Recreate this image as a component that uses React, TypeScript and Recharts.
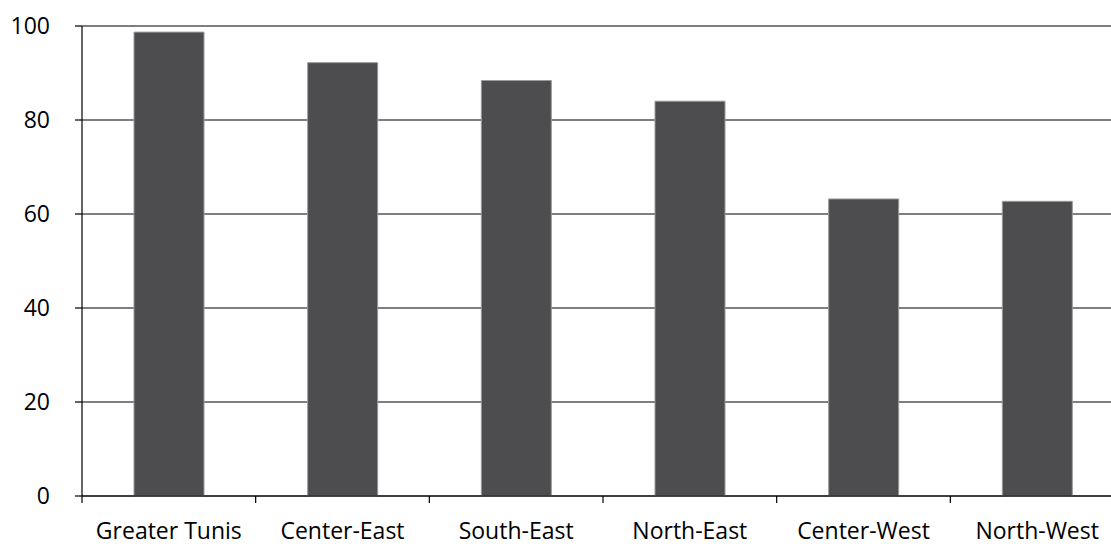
import React from 'react';
import { BarChart, Bar, XAxis, YAxis, CartesianGrid } from 'recharts';

const regions = ['Greater Tunis', 'Center-East', 'South-East', 'North-East', 'Center-West', 'North-West'];
const values = [98.7, 92.2, 88.4, 84.0, 63.2, 62.7];
const yTicks = [0, 20, 40, 60, 80, 100];

const data = regions.map((name, i) => ({ name, value: values[i] }));

const FONT = '"Open Sans", sans-serif';
const LINE = '#000';

// label in the middle of the band, tick mark on the band's left edge
const BoundaryTick = (props: any) => {
  const { x, y, payload } = props;
  const half = payload?.offset ?? 87;
  return (
    <g>
      <line x1={x - half} x2={x - half} y1={y} y2={y + 7} stroke={LINE} strokeWidth={1.2} />
      <text x={x} y={y + 27} dy="0.7em" textAnchor="middle" fontFamily={FONT} fontSize={23} fill="#000">
        {payload.value}
      </text>
    </g>
  );
};

export default function App() {
  return (
    <div style={{ position: 'absolute', left: 0, top: 0, width: 1111, height: 546, overflow: 'hidden', background: '#fff' }}>
      <BarChart width={1130} height={546} data={data} margin={{ top: 26, right: 6, bottom: 0, left: 0 }}>
        <CartesianGrid vertical={false} stroke={LINE} strokeWidth={1.2} />
        <XAxis
          dataKey="name"
          height={50}
          tickLine={false}
          tickSize={0}
          tickMargin={0}
          axisLine={{ stroke: LINE, strokeWidth: 1.2 }}
          tick={<BoundaryTick />}
          interval={0}
        />
        <YAxis
          width={82}
          domain={[0, 100]}
          ticks={yTicks}
          interval={0}
          tickSize={7}
          tickMargin={25}
          axisLine={{ stroke: LINE, strokeWidth: 1.2 }}
          tickLine={{ stroke: LINE, strokeWidth: 1.2 }}
          tick={{ fill: '#000', fontSize: 23, fontFamily: FONT }}
        />
        <Bar dataKey="value" fill="#4d4d4f" stroke="#9a9a9a" strokeWidth={1} barSize={70} isAnimationActive={false} />
      </BarChart>
    </div>
  );
}
